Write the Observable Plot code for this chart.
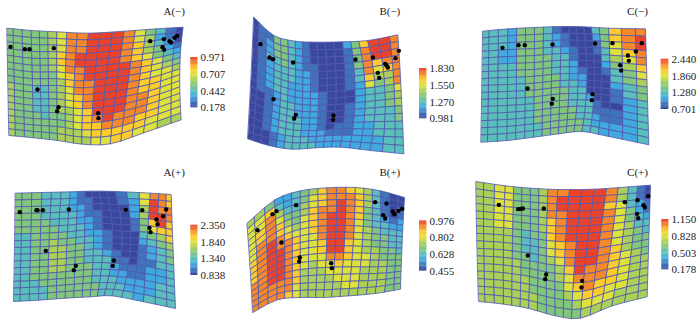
<!DOCTYPE html>
<html><head><meta charset="utf-8">
<script src="https://cdn.jsdelivr.net/npm/d3@7"></script>
<script src="https://cdn.jsdelivr.net/npm/@observablehq/plot@0.6"></script>
<style>html,body{margin:0;padding:0;background:#fff}svg{display:block}</style>
</head><body><div id="chart"></div>
<script>
const panelNames = ["A(−)","B(−)","C(−)","A(+)","B(+)","C(+)"];
const panelOrigin = [[0,0],[235,0],[465,0],[0,162],[235,162],[465,162]];
const tickLabels = [
  ["0.971","0.707","0.442","0.178"],["1.830","1.550","1.270","0.981"],["2.440","1.860","1.280","0.701"],
  ["2.350","1.840","1.340","0.838"],["0.976","0.802","0.628","0.455"],["1.150","0.828","0.503","0.178"]];
const barBox = [[571,592,172,322],[552,574,205,355],[587,610,177,327],[571,592,189,339],[552,574,176,326],[589,610,172,322]];
const titlePos = [[521,32],[463,32],[516,32],[521,31],[463,29],[516,30]];
const palette = ["#39479c","#3f74ba","#40aade","#5abfbb","#82c57c","#abd05a","#dfe13c","#fccb2e","#f6882c","#e9432b"];

// mesh outline: top, middle, bottom lines, sampled every third grid column
const meshTop = [
 [[20,83],[93,90],[170,94],[265,98],[372,92],[468,85],[548,80]],
 [[55,50],[115,105],[180,122],[245,125],[322,124],[397,120],[487,103]],
 [[52,92],[128,85],[208,81],[288,78],[355,79],[430,83],[540,85]],
 [[45,92],[125,90],[210,88],[275,86],[345,87],[450,92],[512,96]],
 [[35,182],[118,112],[195,85],[275,76],[360,75],[435,85],[507,105]],
 [[32,57],[120,70],[195,77],[278,81],[388,80],[490,73],[555,68]]];
const meshMid = [
 [[23,245],[97,255],[170,255],[250,262],[350,250],[450,232],[538,205]],
 [[47,235],[115,270],[180,290],[250,295],[330,290],[420,280],[497,270]],
 [[50,255],[127,252],[207,248],[285,240],[365,240],[435,245],[545,260]],
 [[43,255],[120,253],[200,248],[280,240],[365,245],[440,250],[518,265]],
 [[45,320],[125,265],[195,240],[275,230],[355,230],[435,235],[500,240]],
 [[35,235],[115,240],[195,250],[270,260],[365,260],[470,245],[550,230]]];
const meshBottom = [
 [[26,405],[100,412],[172,420],[245,431],[330,430],[430,397],[542,358]],
 [[37,415],[100,435],[170,446],[240,442],[315,440],[405,450],[505,460]],
 [[47,425],[125,420],[205,410],[280,400],[350,393],[430,408],[550,433]],
 [[40,417],[115,413],[195,407],[270,403],[335,400],[430,418],[525,438]],
 [[52,450],[125,412],[195,405],[265,405],[340,400],[420,393],[495,380]],
 [[40,417],[115,425],[190,438],[270,460],[345,467],[440,430],[545,403]]];

const levelsAminus = ["444445688999864310","444445688999865210","444445688999875320","444445789999875421","444445789999876432","444445688999987643","444444678999987654","444444578899987665","544334568899987766","544334567899987766","544334567899988766","544334556799988766","544434456789888766","544444456778887766","544444555677777666","544444555566776655"];
const levelsBminus = ["011443210000247998","012443210000148998","012443210000148998","013343211000148788","012333221000138678","012333221000137558","012332221000126458","012332222100023346","011232222100023345","001233222100123345","001233222100123334","001233322100123334","001233322101122333","001233322211122333","000123332222222233","000123333222222233"];
const levelsCminus = ["333244431000034788","333244432100024789","333244432100014689","332244433210013678","332244443310003568","333344443320002457","333344443321001346","333334444322000345","333334444332000234","333334444433000134","333333444433200123","333333444433310023","333333444443311123","333333444443321123","333333344444322223","333333344444332223"];
const levelsAplus = ["444333210000136887","444333211000126987","444333221000025988","444333321100025998","444433322100014797","444443332100014677","334444332210003457","334454433210002345","334455443210001234","334455443321001234","334455443331101133","334455444332111223","334444444332211223","333444444333222233","333344444433322233","333344444433332333"];
const levelsBplus = ["554223457887653100","667323467888753100","668533567898753101","678644578898743101","678754678998743212","688765678998643322","689876678998654333","789887668998654433","789987667997654433","789987667997655443","789987666887665444","889987656676665544","889987555666655544","888887555566655544","888886555556655544","888876555555555544"];
const levelsCplus = ["556644458899985310","556644458999985310","556644458999976321","556644458899986421","556644457899986432","556644457899986533","555543447899986543","555543346789986544","555543346789987544","555544345689987654","555554444579887655","555554444568887655","555555444467877655","555555444456776655","555555544445666555","555555544444555555"];
const levels = [levelsAminus,levelsBminus,levelsCminus,levelsAplus,levelsBplus,levelsCplus];

const dotsAminus = [[30,139],[73,146],[87,146],[160,143],[111,267],[174,320],[170,332],[293,338],[294,353],[449,122],[490,116],[507,122],[512,126],[522,112],[530,106],[486,140],[491,148]];
const dotsBminus = [[75,131],[102,171],[113,176],[173,186],[114,296],[181,343],[176,354],[294,345],[293,358],[360,177],[412,171],[449,190],[453,195],[457,201],[480,173],[490,151],[427,217],[431,232]];
const dotsCminus = [[111,142],[159,134],[178,134],[261,132],[186,264],[262,295],[259,310],[381,281],[379,299],[389,129],[441,128],[529,128],[511,153],[487,165],[490,181],[464,194],[467,210]];
const dotsAplus = [[58,149],[108,143],[111,143],[127,143],[205,141],[136,265],[226,310],[220,323],[340,294],[337,310],[376,142],[425,143],[497,141],[488,161],[468,171],[471,185],[447,196],[450,209]];
const dotsBplus = [[66,203],[111,155],[123,146],[182,128],[138,240],[193,285],[191,297],[287,302],[289,317],[419,119],[453,123],[443,158],[449,168],[472,147],[477,155],[489,145],[500,139]];
const dotsCplus = [[100,127],[158,140],[165,139],[172,138],[235,138],[187,279],[242,336],[239,350],[350,355],[348,375],[478,119],[516,113],[534,128],[538,135],[548,101],[515,154],[518,167]];
const dots = [dotsAminus,dotsBminus,dotsCminus,dotsAplus,dotsBplus,dotsCplus];

const nRows = 16, nCols = 18;
const toPage = (p, q) => [panelOrigin[p][0] + q[0] / 3, panelOrigin[p][1] + q[1] / 3];

function along(line, c) {            // position on an outline at grid column c
  const s = Math.min(Math.floor(c / 3), line.length - 2), f = c / 3 - s;
  const a = line[Math.max(s - 1, 0)], b = line[s], d = line[s + 1], e = line[Math.min(s + 2, line.length - 1)];
  return [0, 1].map(k => {
    const m1 = (d[k] - a[k]) / 2, m2 = (e[k] - b[k]) / 2;
    return (2*f**3 - 3*f**2 + 1)*b[k] + (f**3 - 2*f**2 + f)*m1 + (-2*f**3 + 3*f**2)*d[k] + (f**3 - f**2)*m2;
  });
}
function vertex(p, c, r) {
  const v = r / nRows, t = along(meshTop[p], c), m = along(meshMid[p], c), b = along(meshBottom[p], c);
  return [0, 1].map(k => t[k]*(1-v)*(1-2*v) + m[k]*4*v*(1-v) + b[k]*v*(2*v-1));
}

const corners = [];
levels.forEach((rows, p) => rows.forEach((row, r) => [...row].forEach((ch, c) => {
  [[c,r],[c+1,r],[c+1,r+1],[c,r+1]].forEach(([cc,rr]) => {
    const q = toPage(p, vertex(p, cc, rr));
    corners.push({id: `${p}-${r}-${c}`, x: q[0], y: q[1], level: +ch});
  });
})));

const barSteps = d3.range(0, 60).map(i => i / 60 * 9);
const barCells = barBox.flatMap((b, p) => barSteps.map((s, i) => ({
  x1: toPage(p, [b[0], 0])[0], x2: toPage(p, [b[1], 0])[0],
  y1: toPage(p, [0, b[3] - (b[3]-b[2]) * i / 60])[1],
  y2: toPage(p, [0, b[3] - (b[3]-b[2]) * (i+1) / 60])[1] - 0.3,
  level: s + 0.075
})));
const barLabels = barBox.flatMap((b, p) => tickLabels[p].map((t, i) => {
  const q = toPage(p, [b[1] + 8, b[2] + (b[3]-b[2]) * i / 3]);
  return {x: q[0], y: q[1], text: t};
}));
const titles = panelNames.map((t, p) => {
  const q = toPage(p, titlePos[p]);
  return {x: q[0], y: q[1], text: t};
});
const dotRows = dots.flatMap((list, p) => list.map(q => {
  const r = toPage(p, q);
  return {x: r[0], y: r[1]};
}));

const chart = Plot.plot({
  width: 700, height: 325, margin: 0,
  x: {domain: [0, 700], range: [0, 700], axis: null},
  y: {domain: [0, 325], range: [0, 325], axis: null},
  color: {type: "linear", domain: d3.range(10), range: palette},
  style: {background: "#fff"},
  marks: [
    Plot.line(corners, {x: "x", y: "y", z: "id", fill: "level", stroke: "#5158ae", strokeWidth: 0.8, curve: "linear-closed"}),
    Plot.rect(barCells, {x1: "x1", x2: "x2", y1: "y1", y2: "y2", fill: "level"}),
    Plot.dot(dotRows, {x: "x", y: "y", r: 2.2, fill: "#000"}),
    Plot.text(barLabels, {x: "x", y: "y", text: "text", textAnchor: "start", fontFamily: "Liberation Serif", fontSize: 11, fill: "#222"}),
    Plot.text(titles, {x: "x", y: "y", text: "text", fontFamily: "Liberation Serif", fontSize: 11, fill: "#222"})
  ]
});
document.getElementById("chart").append(chart);
</script></body></html>
